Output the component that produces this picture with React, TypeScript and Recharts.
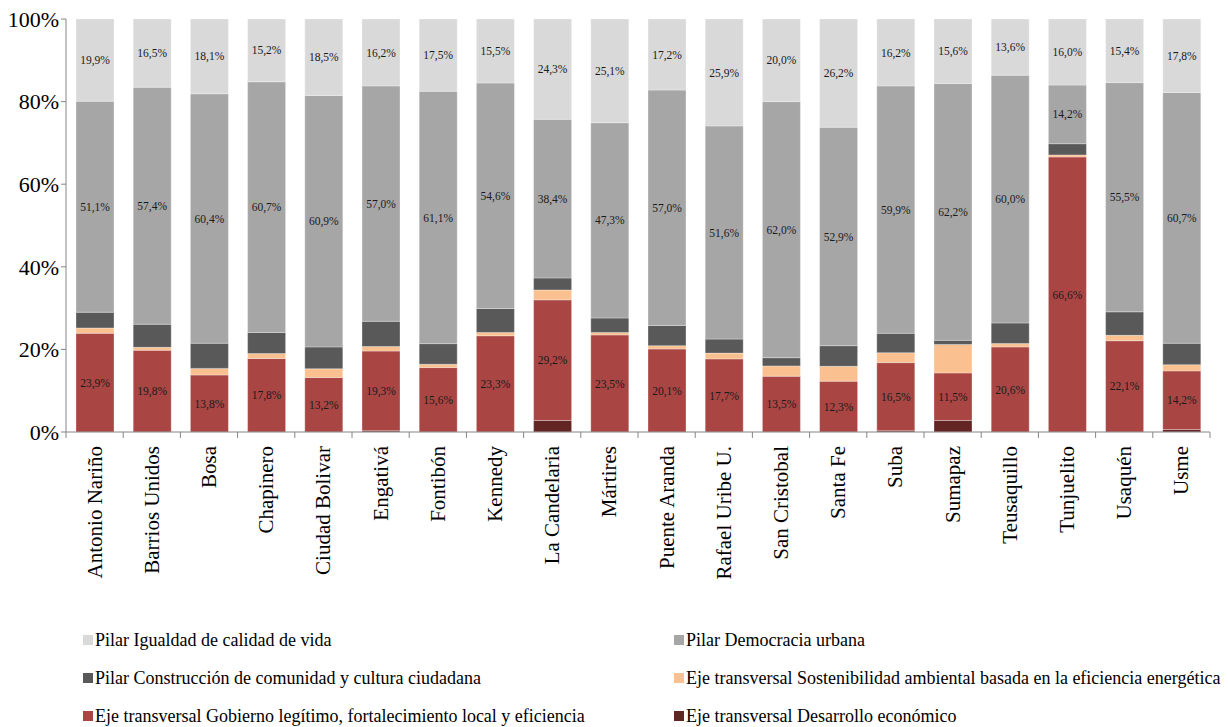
import { Bar, BarChart, LabelList, XAxis, YAxis } from 'recharts';

const categories = [
  'Antonio Nariño', 'Barrios Unidos', 'Bosa', 'Chapinero', 'Ciudad Bolivar', 'Engativá', 'Fontibón',
  'Kennedy', 'La Candelaria', 'Mártires', 'Puente Aranda', 'Rafael Uribe U.', 'San Cristobal', 'Santa Fe',
  'Suba', 'Sumapaz', 'Teusaquillo', 'Tunjuelito', 'Usaquén', 'Usme',
];

const igualdad = [19.9, 16.5, 18.1, 15.2, 18.5, 16.2, 17.5, 15.5, 24.3, 25.1, 17.2, 25.9, 20.0, 26.2, 16.2, 15.6, 13.6, 16.0, 15.4, 17.8];
const democracia = [51.1, 57.4, 60.4, 60.7, 60.9, 57.0, 61.1, 54.6, 38.4, 47.3, 57.0, 51.6, 62.0, 52.9, 59.9, 62.2, 60.0, 14.2, 55.5, 60.7];
const construccion = [3.8, 5.6, 6.1, 5.1, 5.3, 6.1, 5.0, 5.8, 2.9, 3.5, 4.9, 3.4, 2.0, 5.0, 4.7, 1.0, 5.0, 2.7, 5.7, 5.2];
const sostenibilidad = [1.3, 0.7, 1.6, 1.2, 2.1, 1.1, 0.8, 0.8, 2.4, 0.6, 0.8, 1.4, 2.5, 3.6, 2.4, 6.9, 0.8, 0.5, 1.3, 1.5];
const gobierno = [23.9, 19.8, 13.8, 17.8, 13.2, 19.3, 15.6, 23.3, 29.2, 23.5, 20.1, 17.7, 13.5, 12.3, 16.5, 11.5, 20.6, 66.6, 22.1, 14.2];
const desarrollo = [0, 0, 0, 0, 0, 0.3, 0, 0, 2.8, 0, 0, 0, 0, 0, 0.3, 2.8, 0, 0, 0, 0.6];

const yTicks = [0, 20, 40, 60, 80, 100];

const FONT = '"Liberation Serif", "Times New Roman", serif';
const AXIS = '#868686';

const series = [
  { key: 'desarrollo', name: 'Eje transversal Desarrollo económico', color: '#632523', labels: false },
  { key: 'gobierno', name: 'Eje transversal Gobierno legítimo, fortalecimiento local y eficiencia', color: '#a94644', labels: true },
  { key: 'sostenibilidad', name: 'Eje transversal Sostenibilidad ambiental basada en la eficiencia energética', color: '#fac090', labels: false },
  { key: 'construccion', name: 'Pilar Construcción de comunidad y cultura ciudadana', color: '#595959', labels: false },
  { key: 'democracia', name: 'Pilar Democracia urbana', color: '#a6a6a6', labels: true },
  { key: 'igualdad', name: 'Pilar Igualdad de calidad de vida', color: '#d9d9d9', labels: true },
];

// legend reads left-to-right, top-to-bottom like the original
const legendOrder = ['igualdad', 'democracia', 'construccion', 'sostenibilidad', 'gobierno', 'desarrollo'];

const data = categories.map((name, i) => ({
  name,
  igualdad: igualdad[i],
  democracia: democracia[i],
  construccion: construccion[i],
  sostenibilidad: sostenibilidad[i],
  gobierno: gobierno[i],
  desarrollo: desarrollo[i],
}));

const CHART_W = 1228;
const CHART_H = 600;
const MARGIN = { top: 19, right: 18, left: 0, bottom: 0 };
const Y_WIDTH = 66;
const BAND = (CHART_W - MARGIN.left - MARGIN.right - Y_WIDTH) / categories.length;

const fmt = (v: number) => `${v.toFixed(1).replace('.', ',')}%`;

function CategoryTick(props: any) {
  const { x, y, payload, index } = props;
  const top = y - 2;
  return (
    <g>
      <line x1={x - BAND / 2} x2={x - BAND / 2} y1={top} y2={top + 6} stroke={AXIS} />
      {index === categories.length - 1 && (
        <line x1={x + BAND / 2} x2={x + BAND / 2} y1={top} y2={top + 6} stroke={AXIS} />
      )}
      <text
        x={x}
        y={top + 14}
        transform={`rotate(-90, ${x}, ${top + 14})`}
        textAnchor="end"
        dominantBaseline="central"
        fontFamily={FONT}
        fontSize={21}
        fill="#000"
      >
        {payload.value}
      </text>
    </g>
  );
}

function LegendBlock() {
  const items = legendOrder.map((k) => series.find((s) => s.key === k)!);
  return (
    <div
      style={{
        position: 'absolute',
        left: 83,
        top: 626,
        width: 1145,
        display: 'grid',
        gridTemplateColumns: '591px 554px',
        rowGap: 10,
        fontFamily: FONT,
        fontSize: 18,
        color: '#000',
      }}
    >
      {items.map((s) => (
        <div key={s.key} style={{ display: 'flex', alignItems: 'center', height: 28, whiteSpace: 'nowrap' }}>
          <span style={{ display: 'inline-block', width: 10, height: 10, background: s.color, marginRight: 2 }} />
          <span>{s.name}</span>
        </div>
      ))}
    </div>
  );
}

export default function App() {
  return (
    <div style={{ position: 'absolute', left: 0, top: 0, width: CHART_W, height: 727, background: '#fff' }}>
      <BarChart width={CHART_W} height={CHART_H} data={data} margin={MARGIN} barSize={38}>
        <XAxis
          dataKey="name"
          interval={0}
          stroke={AXIS}
          tickLine={false}
          tickSize={0}
          tickMargin={2}
          height={CHART_H - MARGIN.top - 413}
          tick={<CategoryTick />}
        />
        <YAxis
          domain={[0, 100]}
          ticks={yTicks}
          width={Y_WIDTH}
          stroke={AXIS}
          tickSize={5}
          tickMargin={2}
          tickFormatter={(v) => `${v}%`}
          tick={{ fontFamily: FONT, fontSize: 22, fill: '#000' }}
          allowDataOverflow
        />
        {series.map((s) => (
          <Bar
            key={s.key}
            dataKey={s.key}
            name={s.name}
            stackId="a"
            fill={s.color}
            stroke="#ffffff"
            strokeOpacity={0.5}
            strokeWidth={0.6}
            isAnimationActive={false}
          >
            {s.labels && (
              <LabelList
                dataKey={s.key}
                position="center"
                formatter={(v: any) => fmt(Number(v))}
                style={{ fontFamily: FONT, fontSize: 11.5, fill: '#1a1a1a' }}
              />
            )}
          </Bar>
        ))}
      </BarChart>
      <LegendBlock />
    </div>
  );
}
